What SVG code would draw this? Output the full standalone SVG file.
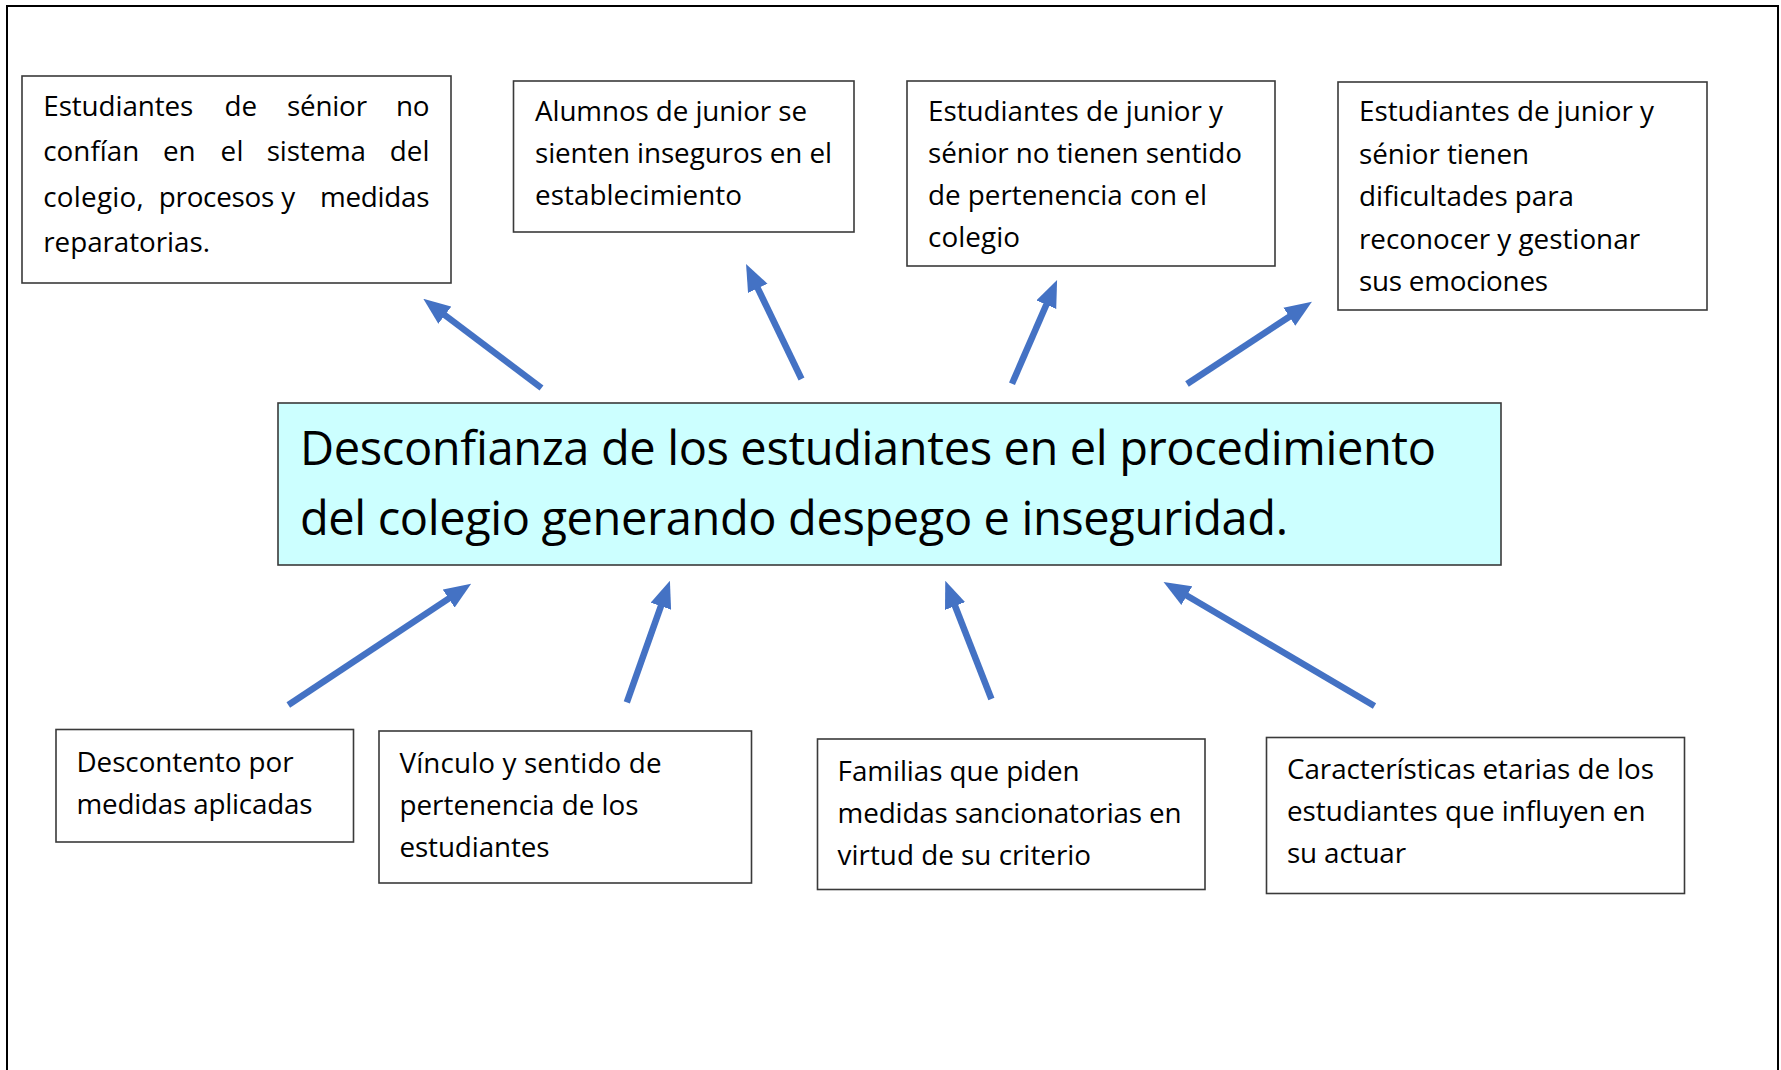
<svg xmlns="http://www.w3.org/2000/svg" width="1781" height="1070" viewBox="0 0 1781 1070">
<style>
.box{fill:#ffffff;stroke:#3a3a3a;stroke-width:1.6}
.main{fill:#CCFFFF;stroke:#3a3a3a;stroke-width:1.6}
.t{font-family:"Open Sans","Liberation Sans",sans-serif;font-size:27.8px;fill:#000}
.tb{font-family:"Open Sans","Liberation Sans",sans-serif;font-size:47px;fill:#000}
.arr{stroke:#4472C4;stroke-width:6.5;fill:none;marker-end:url(#ah)}
</style>
<defs>
<marker id="ah" markerUnits="userSpaceOnUse" viewBox="0 0 10 8" markerWidth="27" markerHeight="22" refX="1" refY="4" orient="auto">
<path d="M0,0 L10,4 L0,8 z" fill="#4472C4"/>
</marker>
</defs>
<rect x="0" y="0" width="1781" height="1070" fill="#ffffff"/>
<rect x="7" y="6" width="1771" height="1100" fill="none" stroke="#000" stroke-width="2"/>

<g id="connectors">
<line class="arr" x1="541.5" y1="388" x2="442.7" y2="313.5"/>
<line class="arr" x1="801.5" y1="379" x2="756.6" y2="285.9"/>
<line class="arr" x1="1012" y1="383.7" x2="1047.4" y2="302.2"/>
<line class="arr" x1="1187" y1="384" x2="1291.6" y2="315.2"/>
<line class="arr" x1="288.3" y1="705" x2="450.9" y2="597.1"/>
<line class="arr" x1="626.8" y1="702.3" x2="661.8" y2="603.6"/>
<line class="arr" x1="991.4" y1="699" x2="954.1" y2="603.5"/>
<line class="arr" x1="1374.5" y1="706" x2="1184.5" y2="594.3"/>
</g>

<g id="top1">
<rect class="box" x="22" y="76" width="429" height="207"/>
<text class="t" x="43.3" y="115.7" textLength="150" lengthAdjust="spacing">Estudiantes</text>
<text class="t" x="224.5" y="115.7" textLength="32.5" lengthAdjust="spacing">de</text>
<text class="t" x="287" y="115.7" textLength="80" lengthAdjust="spacing">sénior</text>
<text class="t" x="396" y="115.7" textLength="33.5" lengthAdjust="spacing">no</text>
<text class="t" x="43.3" y="161" textLength="96" lengthAdjust="spacing">confían</text>
<text class="t" x="163" y="161" textLength="32.5" lengthAdjust="spacing">en</text>
<text class="t" x="220.5" y="161" textLength="23" lengthAdjust="spacing">el</text>
<text class="t" x="266.7" y="161" textLength="99.3" lengthAdjust="spacing">sistema</text>
<text class="t" x="389.7" y="161" textLength="39.8" lengthAdjust="spacing">del</text>
<text class="t" x="43.3" y="206.7" textLength="100.3" lengthAdjust="spacing">colegio,</text>
<text class="t" x="158.8" y="206.7" textLength="115.4" lengthAdjust="spacing">procesos</text>
<text class="t" x="281.3" y="206.7" textLength="14.4" lengthAdjust="spacing">y</text>
<text class="t" x="319.9" y="206.7" textLength="109.6" lengthAdjust="spacing">medidas</text>
<text class="t" x="43.3" y="251.7" textLength="166.7" lengthAdjust="spacing">reparatorias.</text>
</g>

<g id="top2">
<rect class="box" x="513.5" y="81" width="340.5" height="151"/>
<text class="t" x="535" y="121" textLength="272" lengthAdjust="spacing">Alumnos de junior se</text>
<text class="t" x="535" y="163" textLength="297" lengthAdjust="spacing">sienten inseguros en el</text>
<text class="t" x="535" y="205" textLength="207" lengthAdjust="spacing">establecimiento</text>
</g>

<g id="top3">
<rect class="box" x="907" y="81" width="368" height="185"/>
<text class="t" x="928" y="121" textLength="295" lengthAdjust="spacing">Estudiantes de junior y</text>
<text class="t" x="928" y="163" textLength="314" lengthAdjust="spacing">sénior no tienen sentido</text>
<text class="t" x="928" y="205" textLength="279" lengthAdjust="spacing">de pertenencia con el</text>
<text class="t" x="928" y="247" textLength="92" lengthAdjust="spacing">colegio</text>
</g>

<g id="top4">
<rect class="box" x="1338" y="82" width="369" height="228"/>
<text class="t" x="1359" y="121" textLength="295" lengthAdjust="spacing">Estudiantes de junior y</text>
<text class="t" x="1359" y="163.5" textLength="170" lengthAdjust="spacing">sénior tienen</text>
<text class="t" x="1359" y="206" textLength="215" lengthAdjust="spacing">dificultades para</text>
<text class="t" x="1359" y="248.5" textLength="281" lengthAdjust="spacing">reconocer y gestionar</text>
<text class="t" x="1359" y="291" textLength="189" lengthAdjust="spacing">sus emociones</text>
</g>

<g id="center">
<rect class="main" x="278" y="403" width="1223" height="162"/>
<text class="tb" x="300" y="465" textLength="1136" lengthAdjust="spacing">Desconfianza de los estudiantes en el procedimiento</text>
<text class="tb" x="300" y="535" textLength="988" lengthAdjust="spacing">del colegio generando despego e inseguridad.</text>
</g>

<g id="bottom1">
<rect class="box" x="56" y="729.5" width="297.5" height="112.5"/>
<text class="t" x="76.5" y="772" textLength="217" lengthAdjust="spacing">Descontento por</text>
<text class="t" x="76.5" y="814" textLength="236" lengthAdjust="spacing">medidas aplicadas</text>
</g>

<g id="bottom2">
<rect class="box" x="379" y="731" width="372.5" height="152"/>
<text class="t" x="399.5" y="773" textLength="262" lengthAdjust="spacing">Vínculo y sentido de</text>
<text class="t" x="399.5" y="815" textLength="239" lengthAdjust="spacing">pertenencia de los</text>
<text class="t" x="399.5" y="857" textLength="150" lengthAdjust="spacing">estudiantes</text>
</g>

<g id="bottom3">
<rect class="box" x="817.5" y="739" width="387.5" height="150.5"/>
<text class="t" x="837.6" y="781" textLength="242" lengthAdjust="spacing">Familias que piden</text>
<text class="t" x="837.6" y="823" textLength="344" lengthAdjust="spacing">medidas sancionatorias en</text>
<text class="t" x="837.6" y="865" textLength="253.5" lengthAdjust="spacing">virtud de su criterio</text>
</g>

<g id="bottom4">
<rect class="box" x="1266.5" y="737.5" width="418" height="156"/>
<text class="t" x="1287" y="779" textLength="367" lengthAdjust="spacing">Características etarias de los</text>
<text class="t" x="1287" y="821" textLength="358.5" lengthAdjust="spacing">estudiantes que influyen en</text>
<text class="t" x="1287" y="863" textLength="119" lengthAdjust="spacing">su actuar</text>
</g>
</svg>
